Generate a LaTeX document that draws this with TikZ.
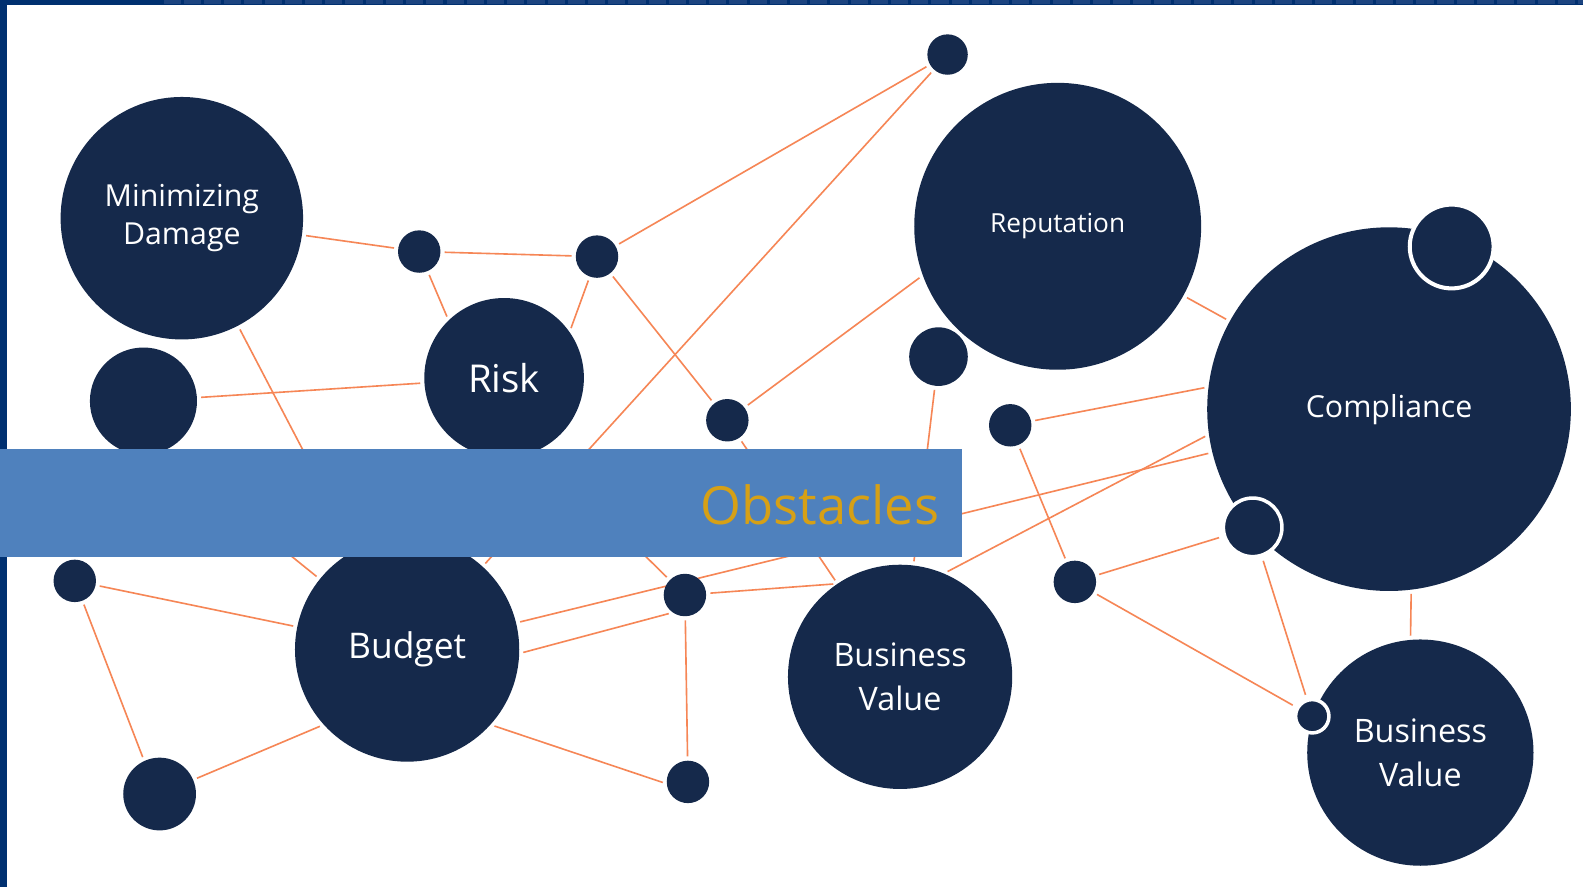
\documentclass[tikz,border=0pt]{standalone}
\usepackage{fontspec}
\setmainfont{Open Sans}
\usetikzlibrary{positioning, backgrounds}

\definecolor{navy}{RGB}{21,41,75}
\definecolor{linkorange}{RGB}{246,134,86}
\definecolor{banner}{RGB}{79,129,189}
\definecolor{gold}{RGB}{214,160,22}
\definecolor{frame}{RGB}{0,48,112}
\definecolor{framelight}{RGB}{28,68,128}

\begin{document}
\begin{tikzpicture}[
					x=1pt, y=-1pt,
					topic/.style={circle, fill=navy, text=white, inner sep=0pt, align=center, minimum size=#1},
					knot/.style={circle, fill=navy, inner sep=0pt, minimum size=#1},
					ringknot/.style={knot=#1, draw=white, line width=3.5pt},
					link/.style={draw=linkorange, line width=1.6pt, shorten <=4pt, shorten >=4pt}
					]
					\useasboundingbox (0,0) rectangle (1567,878);
					% big circles
					\node[topic=240, font=\fontsize{30}{38}\selectfont] (mindmg) at (180,216) {Minimizing\\Damage};
					\node[topic=158, font=\fontsize{38}{44}\selectfont] (risk) at (499,374) {Risk};
					\node[topic=284, font=\fontsize{26}{32}\selectfont] (reput) at (1047,224) {Reputation};
					\node[topic=360, font=\fontsize{30}{38}\selectfont] (compl) at (1375,405) {Compliance};
					\node[topic=222, font=\fontsize{35}{42}\selectfont] (budget) at (403,643) {Budget};
					\node[topic=222, font=\fontsize{32}{43}\selectfont] (bizM) at (891,670) {Business\\Value};
					\node[topic=224, font=\fontsize{32}{43}\selectfont] (bizR) at (1406,745) {Business\\Value};
					% small circles
					\node[knot=106] (leftknot) at (142,397) {};
					\node[knot=42] (k1) at (415,249) {};
					\node[knot=42] (k2) at (591,254) {};
					\node[knot=40] (ktop) at (938,54) {};
					\node[knot=58] (k3) at (929,353) {};
					\node[knot=42] (k4) at (720,416) {};
					\node[knot=42] (k5) at (1000,421) {};
					\node[knot=42] (k6) at (1064,576) {};
					\node[knot=42] (k7) at (74,575) {};
					\node[knot=72] (k8) at (158,786) {};
					\node[knot=42] (k9) at (678,589) {};
					\node[knot=42] (k10) at (681,774) {};
					\node[ringknot=83, line width=4pt] (ringA) at (1437,244) {};
					\node[ringknot=58] (ringB) at (1240,522) {};
					\node[ringknot=33] (ringC) at (1299,709) {};

					\begin{scope}[on background layer]
						\fill[white] (0,0) rectangle (1567,878);
						\fill[frame] (0,0) rectangle (1567,5);
						\fill[frame] (0,0) rectangle (7,878);
						\foreach \bx in {160,180,...,1560}
							\fill[framelight] (\bx+2,0) rectangle (\bx+19,4);
						\draw[link] (mindmg) -- (k1);
						\draw[link] (k1) -- (k2);
						\draw[link] (k1) -- (risk.134);
						\draw[link] (k2) -- (risk.35);
						\draw[link] (k2) -- (ktop);
						\draw[link] (k2) -- (k4);
						\draw[link] (ktop) -- (budget);
						\draw[link] (leftknot) -- (risk);
						\draw[link] (leftknot.290) -- (budget);
						\draw[link] (mindmg) -- (budget);
						\draw[link] (risk.295) -- (k9);
						\draw[link] (k4) -- (reput.200);
						\draw[link] (k4) -- (bizM);
						\draw[link] (k3) -- (bizM);
						\draw[link] (reput) -- (compl);
						\draw[link] (k5) -- (compl.173);
						\draw[link] (budget) -- (compl);
						\draw[link] (bizM.67) -- (compl.188);
						\draw[link] (k5) -- (k6);
						\draw[link] (k6) -- (ringB);
						\draw[link] (k6) -- (ringC);
						\draw[link] (ringB) -- (ringC);
						\draw[link] (compl.277) -- (bizR.95);
						\draw[link] (budget.358) -- (k9.235);
						\draw[link] (k9) -- (bizM.124);
						\draw[link] (k9) -- (k10);
						\draw[link] (budget.318) -- (k10.185);
						\draw[link] (budget) -- (k7);
						\draw[link] (k7) -- (k8.115);
						\draw[link] (k8) -- (budget.222);
					\end{scope}

					% title band
					\fill[banner] (0,444) rectangle (952,551);
					\node[anchor=base east, text=gold, inner sep=0pt, font=\fontsize{52}{60}\selectfont] (obstacles) at (930,519) {Obstacles};
				\end{tikzpicture}
\end{document}
